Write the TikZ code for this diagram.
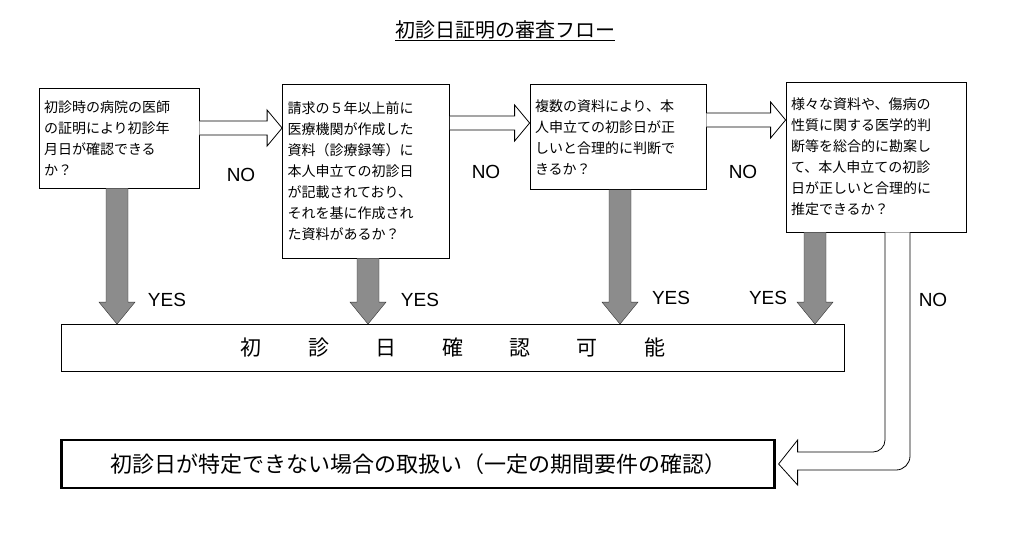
\documentclass[tikz,border=0pt]{standalone}
\usepackage{fontspec}
\setmainfont{Noto Sans CJK JP}
\setsansfont{Liberation Sans}
\usetikzlibrary{positioning,calc}
\definecolor{yesgray}{RGB}{140,140,140}

% fat hollow arrow to the right: from node, to node, y of its axis
\newcommand\fatright[3]{%
\draw[hollowarr] ($(#1.east |- 0,#3)+(0,-7)$) -- ($(#2.west |- 0,#3)+(-15,-7)$) -- ++(0,-11)
    -- (#2.west |- 0,#3) -- ($(#2.west |- 0,#3)+(-15,18)$) -- ++(0,-11) -- ($(#1.east |- 0,#3)+(0,7)$);}
% fat gray arrow down: from node, to node, x of its axis
\newcommand\fatdown[3]{%
\draw[grayarr] (#3-11,0 |- #1.south) -- ($(#3-11,0 |- #2.north)+(0,-22)$) -- ++(-7,0)
    -- (#3,0 |- #2.north) -- ($(#3,0 |- #2.north)+(18,-22)$) -- ++(-7,0) -- (#3+11,0 |- #1.south);}

\begin{document}
\begin{tikzpicture}[x=1pt, y=-1pt,
    askbox/.style={rectangle, draw, thick, fill=white, align=left, inner sep=5pt, font=\fontsize{14}{21}\selectfont},
    barbox/.style={rectangle, draw, thick, minimum width=783pt, minimum height=47pt, font=\fontsize{21}{24}\selectfont},
    endbox/.style={rectangle, draw, line width=2.2pt, minimum width=713pt, minimum height=48pt, font=\fontsize{22}{24}\selectfont},
    hollowarr/.style={draw, thick, fill=white},
    grayarr/.style={draw=black!80, fill=yesgray},
    lab/.style={font=\sffamily\fontsize{19}{21}\selectfont}
]
\useasboundingbox (0,0) rectangle (1024,544);

% title
\node (title) at (505,31) {\fontsize{20}{22}\selectfont\underline{初診日証明の審査フロー}};

% question boxes
\node[askbox, text width=150pt, minimum height=100pt] (b1) at (119,138) {初診時の病院の医師\\の証明により初診年\\月日が確認できる\\か？};
\node[askbox, text width=157pt, minimum height=174pt] (b2) at (366,171) {請求の５年以上前に\\医療機関が作成した\\資料（診療録等）に\\本人申立ての初診日\\が記載されており、\\それを基に作成され\\た資料があるか？};
\node[askbox, text width=166pt, minimum height=105pt] (b3) at (618,137) {複数の資料により、本\\人申立ての初診日が正\\しいと合理的に判断で\\きるか？};
\node[askbox, text width=170pt, minimum height=150pt] (b4) at (876,157) {様々な資料や、傷病の\\性質に関する医学的判\\断等を総合的に勘案し\\て、本人申立ての初診\\日が正しいと合理的に\\推定できるか？};

% result boxes
\node[barbox] (ok) at (453,348) {初\hspace{2.2em}診\hspace{2.2em}日\hspace{2.2em}確\hspace{2.2em}認\hspace{2.2em}可\hspace{2.2em}能};
\node[endbox] (fail) at (418,464) {初診日が特定できない場合の取扱い（一定の期間要件の確認）};

% NO arrows
\fatright{b1}{b2}{128}
\fatright{b2}{b3}{123}
\fatright{b3}{b4}{120}
\node[lab] (no1) at (241,175) {NO};
\node[lab] (no2) at (486,172) {NO};
\node[lab] (no3) at (743,172) {NO};

% YES arrows
\fatdown{b1}{ok}{117}
\fatdown{b2}{ok}{368}
\fatdown{b3}{ok}{620}
\fatdown{b4}{ok}{815}
\node[lab] (yes1) at (167,300) {YES};
\node[lab] (yes2) at (420,300) {YES};
\node[lab] (yes3) at (671,298) {YES};
\node[lab] (yes4) at (768,298) {YES};

% last NO arrow
\draw[hollowarr] (885,0 |- b4.south) [rounded corners=12] -- (885,452) [sharp corners] -- ($(fail.east |- 0,452)+(22,0)$)
    -- ++(0,-12) -- ($(fail.east)+(3,0)$) -- ($(fail.east |- 0,485)+(22,0)$) -- ++(0,-15)
    [rounded corners=14] -- (910,470) [sharp corners] -- (910,0 |- b4.south);
\node[lab] (no4) at (933,300) {NO};
\end{tikzpicture}
\end{document}
